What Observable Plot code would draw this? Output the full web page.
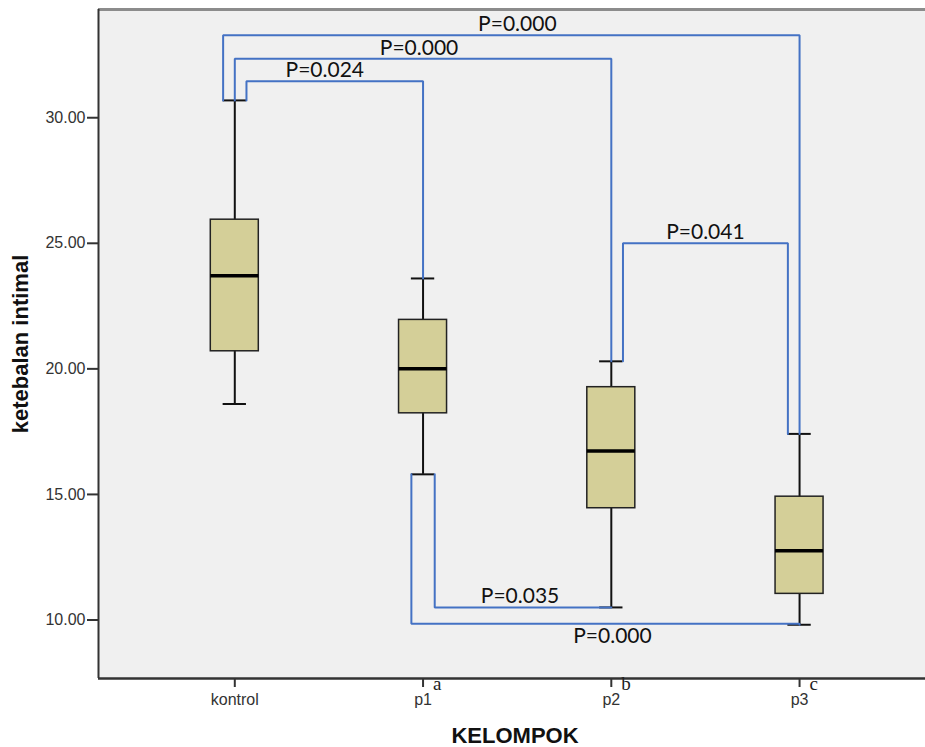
<!DOCTYPE html>
<html>
<head>
<meta charset="utf-8">
<script src="https://cdn.jsdelivr.net/npm/d3@7"></script>
<script src="https://cdn.jsdelivr.net/npm/@observablehq/plot@0.6"></script>
<style>
  html, body { margin: 0; padding: 0; background: #fff; }
  #chart svg { display: block; }
</style>
</head>
<body>
<div id="chart"></div>
<script>
// ---- Data ----
const groups       = ["kontrol", "p1", "p2", "p3"];
const whiskerLow   = [18.6, 15.8, 10.5, 9.81];
const q1           = [20.7, 18.23, 14.45, 11.04];
const median       = [23.71, 20.0, 16.73, 12.76];
const q3           = [25.94, 21.95, 19.27, 14.91];
const whiskerHigh  = [30.69, 23.6, 20.3, 17.41];
const groupLetters = ["", "a", "b", "c"];
const yTicks       = [10, 15, 20, 25, 30];

// significance brackets
const bracketFrom  = ["kontrol", "kontrol", "kontrol", "p2", "p1", "p1"];
const bracketTo    = ["p1", "p2", "p3", "p3", "p2", "p3"];
const bracketLevel = [31.45, 32.35, 33.28, 25.0, 10.5, 9.85];
const bracketLabel = ["P=0.024", "P=0.000", "P=0.000", "P=0.041", "P=0.035", "P=0.000"];

// ---- Layout / style constants ----
const xDomain = [-0.724, 3.669];
const yDomain = [7.67, 34.31];
const BOX_HALF = 0.1275;
const CAP_HALF = 0.062;
const fromSide = [1, 0, -1, 1, 1, -1];
const toSide   = [0, 0, 0, -1, 0, 0];
const labelBelow = [false, false, false, false, false, true];
const labelShift = [-10, -4, 6, 0, -3, 7];

const stats = groups.map((g, i) => ({
  g, i, lo: whiskerLow[i], q1: q1[i], med: median[i], q3: q3[i], hi: whiskerHigh[i], letter: groupLetters[i]
}));

const bracketPts = [];
const bracketText = [];
bracketFrom.forEach((f, k) => {
  const a = groups.indexOf(f), b = groups.indexOf(bracketTo[k]);
  const lvl = bracketLevel[k];
  const top = lvl > whiskerHigh[a];
  const ya = top ? whiskerHigh[a] : whiskerLow[a];
  const yb = top ? whiskerHigh[b] : whiskerLow[b];
  const xa = a + fromSide[k] * CAP_HALF, xb = b + toSide[k] * CAP_HALF;
  bracketPts.push({k, x: xa, y: ya}, {k, x: xa, y: lvl}, {k, x: xb, y: lvl}, {k, x: xb, y: yb});
  bracketText.push({x: (xa + xb) / 2, y: lvl, text: bracketLabel[k], below: labelBelow[k], shift: labelShift[k]});
});

const labelFont = "Lato, 'Open Sans', sans-serif";

const chart = Plot.plot({
  width: 925,
  height: 747,
  marginLeft: 98,
  marginRight: 0,
  marginTop: 9,
  marginBottom: 69,
  style: {background: "#fff", fontFamily: "'Liberation Sans', Arial, sans-serif", overflow: "visible"},
  x: {type: "linear", domain: xDomain},
  y: {type: "linear", domain: yDomain},
  marks: [
    Plot.frame({fill: "#f0f0f0", stroke: "none"}),
    Plot.ruleY([yDomain[1]], {stroke: "#8c8c8c", strokeWidth: 3}),
    Plot.ruleX([xDomain[0]], {stroke: "#333", strokeWidth: 2}),
    Plot.ruleY([yDomain[0]], {stroke: "#333", strokeWidth: 2.5}),
    Plot.axisY({ticks: yTicks, tickFormat: d3.format(".2f"), tickSize: 11, tickPadding: 2,
      fontSize: 16, color: "#333", strokeWidth: 2, label: null}),
    Plot.axisX({ticks: groups.map((_, i) => i), tickFormat: i => groups[i], tickSize: 9, tickPadding: 6,
      fontSize: 16, color: "#333", strokeWidth: 2, label: null}),
    // whiskers
    Plot.ruleX(stats, {x: "i", y1: "lo", y2: "hi", stroke: "#111", strokeWidth: 2}),
    Plot.ruleY(stats, {y: "hi", x1: d => d.i - CAP_HALF, x2: d => d.i + CAP_HALF, stroke: "#111", strokeWidth: 2}),
    Plot.ruleY(stats, {y: "lo", x1: d => d.i - CAP_HALF, x2: d => d.i + CAP_HALF, stroke: "#111", strokeWidth: 2}),
    // boxes
    Plot.rect(stats, {x1: d => d.i - BOX_HALF, x2: d => d.i + BOX_HALF, y1: "q1", y2: "q3",
      fill: "#d4cf98", stroke: "#222", strokeWidth: 1.5}),
    Plot.ruleY(stats, {y: "med", x1: d => d.i - BOX_HALF, x2: d => d.i + BOX_HALF, stroke: "#000", strokeWidth: 3.5}),
    // brackets
    Plot.line(bracketPts, {x: "x", y: "y", z: "k", stroke: "#4472c4", strokeWidth: 2, strokeLinejoin: "miter"}),
    ...bracketText.map(d => Plot.text([d], {x: "x", y: "y", text: "text", dx: d.shift,
      dy: d.below ? 4 : -4, lineAnchor: d.below ? "top" : "bottom",
      fontSize: 21, fontFamily: labelFont, fill: "#111"})),
    // group letters beside ticks
    Plot.text(stats, {x: "i", frameAnchor: "bottom", text: "letter", dx: 10, dy: 11, textAnchor: "start",
      lineAnchor: "bottom", fontFamily: "'Liberation Serif', 'DejaVu Serif', serif", fontSize: 19, fill: "#222"}),
    // axis titles
    Plot.text(["ketebalan intimal"], {text: d => d, frameAnchor: "left", dx: -78, rotate: -90,
      textAnchor: "middle", lineAnchor: "middle", fontWeight: "bold", fontSize: 22, fill: "#111"}),
    Plot.text(["KELOMPOK"], {text: d => d, frameAnchor: "bottom", dx: 3, dy: 57, textAnchor: "middle",
      lineAnchor: "middle", fontWeight: "bold", fontSize: 22, fill: "#111"})
  ]
});
document.getElementById("chart").appendChild(chart);
</script>
</body>
</html>
